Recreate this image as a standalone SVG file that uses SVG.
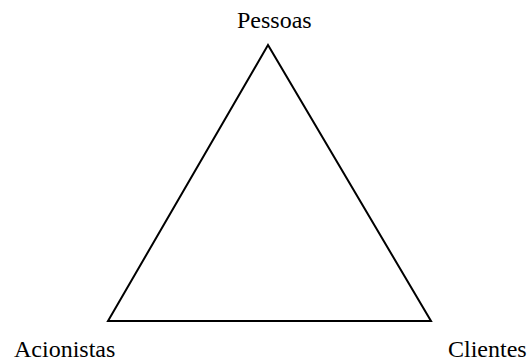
<svg xmlns="http://www.w3.org/2000/svg" width="528" height="363" viewBox="0 0 528 363">
<style>
.lbl{font-family:'Liberation Serif','Times New Roman',serif;font-size:24px;fill:#000}
.edge{fill:none;stroke:#000;stroke-width:2;stroke-linejoin:miter}
</style>
<rect width="528" height="363" fill="#fff"/>
<g id="connectors">
<polygon class="edge" points="268,45 108,321 431,321"/>
</g>
<g id="node-pessoas"><text class="lbl" x="237" y="28">Pessoas</text></g>
<g id="node-acionistas"><text class="lbl" x="14" y="357">Acionistas</text></g>
<g id="node-clientes"><text class="lbl" x="448" y="357">Clientes</text></g>
</svg>
